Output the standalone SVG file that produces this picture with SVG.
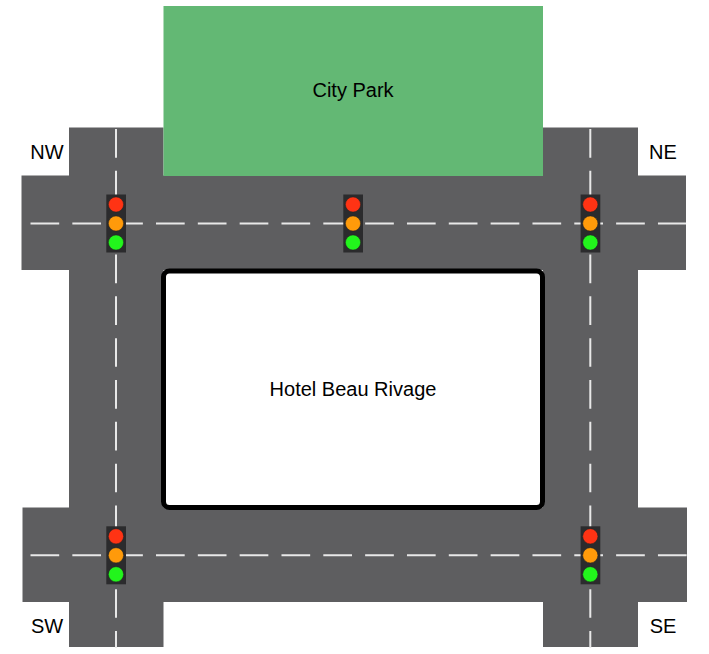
<svg xmlns="http://www.w3.org/2000/svg" width="709" height="654" viewBox="0 0 709 654">
<style>
.road{fill:#5e5e60}
.dash{fill:none;stroke:#e8e8e8;stroke-width:2;stroke-dasharray:28.7 13.13}
.box{fill:#2b2b2d}
.lens{stroke:#222;stroke-width:.5}
.r{fill:#ff3314}.o{fill:#ff9a0a}.g{fill:#22f51c}
text{font-family:"Liberation Sans",Arial,sans-serif;font-size:20px;fill:#000;text-anchor:middle}
</style>
<defs>
<g id="lamp">
<rect class="box" x="-9.7" y="-29" width="19.700" height="58"/>
<circle class="lens r" cy="-19" r="7.600"/>
<circle class="lens o" r="7.600"/>
<circle class="lens g" cy="19" r="7.600"/>
</g>
</defs>
<rect width="709" height="654" fill="#fff"/>
<g id="roads">
<rect class="road" x="21.5" y="175.5" width="664.5" height="94.5"/>
<rect class="road" x="22.5" y="507.5" width="664.5" height="94.5"/>
<rect class="road" x="69" y="127.5" width="94.5" height="519.5"/>
<rect class="road" x="543" y="127.5" width="95" height="519.5"/>
</g>
<g id="connectors">
<path class="dash" d="M30.5 223.500H686"/>
<path class="dash" d="M30.5 555.300H687"/>
<path class="dash" d="M116 129V648"/>
<path class="dash" d="M590.300 129V648"/>
</g>
<g id="city-park">
<rect x="163.500" y="6" width="379.500" height="170" fill="#63b874"/>
<text x="353" y="97">City Park</text>
</g>
<g id="hotel">
<rect x="163.500" y="271" width="379" height="236.500" rx="6" fill="#fff" stroke="#000" stroke-width="5"/>
<text x="353" y="396">Hotel Beau Rivage</text>
</g>
<g id="light-nw"><use href="#lamp" x="116" y="223.500"/></g>
<g id="light-n"><use href="#lamp" x="353" y="223.500"/></g>
<g id="light-ne"><use href="#lamp" x="590.300" y="223.500"/></g>
<g id="light-sw"><use href="#lamp" x="116" y="555.300"/></g>
<g id="light-se"><use href="#lamp" x="590.300" y="555.300"/></g>
<g id="label-nw"><text x="47" y="159">NW</text></g>
<g id="label-ne"><text x="663" y="159">NE</text></g>
<g id="label-sw"><text x="47" y="633">SW</text></g>
<g id="label-se"><text x="663" y="633">SE</text></g>
</svg>
